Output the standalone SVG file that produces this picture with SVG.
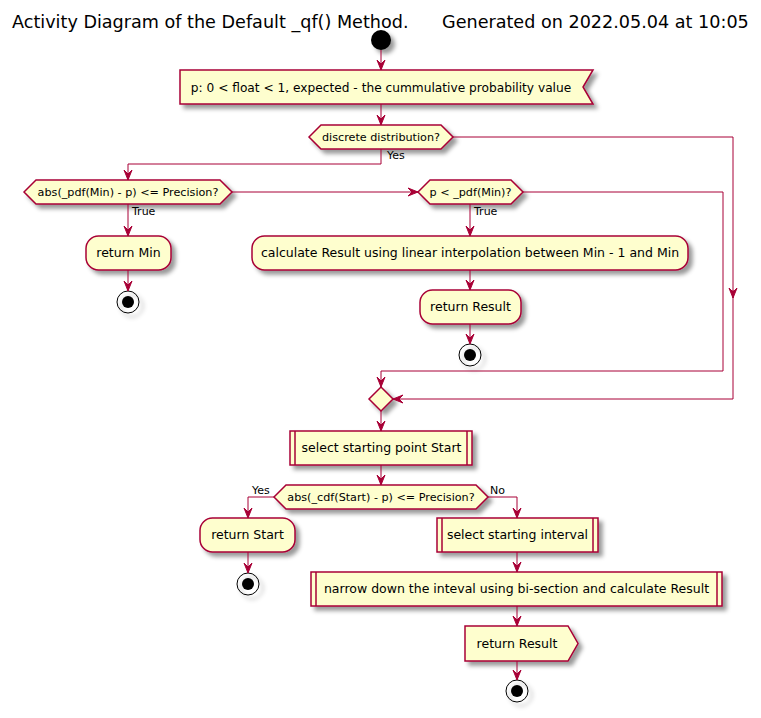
<svg xmlns="http://www.w3.org/2000/svg" width="761" height="718" viewBox="0 0 761 718">
<defs>
<filter id="sh" x="-1" y="-1" width="300%" height="300%">
<feGaussianBlur result="b" stdDeviation="2"/>
<feColorMatrix in="b" result="b2" type="matrix" values="0 0 0 0 0 0 0 0 0 0 0 0 0 0 0 0 0 0 .4 0"/>
<feOffset dx="4" dy="4" in="b2" result="b3"/>
<feBlend in="SourceGraphic" in2="b3" mode="normal"/>
</filter>
<marker id="ah" markerUnits="userSpaceOnUse" markerWidth="12" markerHeight="10" refX="10" refY="4" orient="auto" overflow="visible">
<path d="M0,0 L10,4 L0,8 L4,4 Z" fill="#A80036" stroke="#A80036" stroke-width="1"/>
</marker>
</defs>
<style>
.n{fill:#FEFECE;stroke:#A80036;stroke-width:1.5;filter:url(#sh)}
.bar{stroke:#A80036;stroke-width:1.5;fill:none}
.t{font-family:"DejaVu Sans","Liberation Sans",sans-serif;font-size:12.5px;fill:#000;text-anchor:middle}
.d{font-family:"DejaVu Sans","Liberation Sans",sans-serif;font-size:11.2px;fill:#000;text-anchor:middle}
.l{font-family:"DejaVu Sans","Liberation Sans",sans-serif;font-size:11px;fill:#000}
.c path{fill:none;stroke:#A80036;stroke-width:1}
.c path.a{marker-end:url(#ah)}
.stopo{fill:none;stroke:#000;stroke-width:1;filter:url(#sh)}
</style>
<rect width="761" height="718" fill="#FFFFFF"/>
<text x="12" y="28" font-family="DejaVu Sans, Liberation Sans, sans-serif" font-size="17.6" xml:space="preserve">Activity Diagram of the Default _qf() Method.      Generated on 2022.05.04 at 10:05</text>

<g id="start"><circle cx="381" cy="40" r="10" fill="#000" filter="url(#sh)"/></g>

<g id="input"><polygon class="n" points="180,70 593,70 583,87 593,104 180,104"/><text class="t" x="381" y="92" style="font-size:12.2px">p: 0 &lt; float &lt; 1, expected - the cummulative probability value</text></g>

<g id="dec1"><polygon class="n" points="309,137 321,125 441,125 453,137 441,149 321,149"/><text class="d" x="381" y="141">discrete distribution?</text></g>

<g id="dec2"><polygon class="n" points="24,192 36,180 220,180 232,192 220,204 36,204"/><text class="d" x="128" y="196">abs(_pdf(Min) - p) &lt;= Precision?</text></g>

<g id="dec3"><polygon class="n" points="418,192 430,180 511,180 523,192 511,204 430,204"/><text class="d" x="470.5" y="196">p &lt; _pdf(Min)?</text></g>

<g id="retMin"><rect class="n" x="86" y="236" width="85" height="34" rx="12.5" ry="12.5"/><text class="t" x="128.5" y="257">return Min</text></g>
<g id="stop1"><circle class="stopo" cx="128" cy="302" r="11"/><circle cx="128" cy="302" r="6" fill="#000"/></g>

<g id="calc"><rect class="n" x="252" y="236" width="436" height="34" rx="12.5" ry="12.5"/><text class="t" x="470" y="257">calculate Result using linear interpolation between Min - 1 and Min</text></g>
<g id="retRes1"><rect class="n" x="420" y="290" width="101" height="34" rx="12.5" ry="12.5"/><text class="t" x="470.5" y="311">return Result</text></g>
<g id="stop2"><circle class="stopo" cx="470" cy="355" r="11"/><circle cx="470" cy="355" r="6" fill="#000"/></g>

<g id="merge"><polygon class="n" points="381,387 393,399 381,411 369,399"/></g>

<g id="selStart"><rect class="n" x="290" y="431" width="182" height="34"/><path class="bar" d="M295,431 V465 M467,431 V465"/><text class="t" x="381.5" y="452">select starting point Start</text></g>

<g id="dec4"><polygon class="n" points="274,497 286,485 476,485 488,497 476,509 286,509"/><text class="d" x="381" y="501">abs(_cdf(Start) - p) &lt;= Precision?</text></g>

<g id="retStart"><rect class="n" x="200" y="518" width="95" height="34" rx="12.5" ry="12.5"/><text class="t" x="247.5" y="539">return Start</text></g>
<g id="stop3"><circle class="stopo" cx="248" cy="584" r="11"/><circle cx="248" cy="584" r="6" fill="#000"/></g>

<g id="selInt"><rect class="n" x="437" y="518" width="161" height="34"/><path class="bar" d="M442,518 V552 M593,518 V552"/><text class="t" x="517.5" y="539">select starting interval</text></g>

<g id="narrow"><rect class="n" x="311" y="572" width="411" height="34"/><path class="bar" d="M316,572 V606 M717,572 V606"/><text class="t" x="516.5" y="593">narrow down the inteval using bi-section and calculate Result</text></g>

<g id="retRes2"><polygon class="n" points="465,626 568,626 578,643.5 568,661 465,661"/><text class="t" x="517" y="648">return Result</text></g>
<g id="stop4"><circle class="stopo" cx="517" cy="691" r="11"/><circle cx="517" cy="691" r="6" fill="#000"/></g>

<g id="connectors" class="c">
<path class="a" d="M381,50 V70"/>
<path class="a" d="M381,104 V125"/>
<path class="a" d="M381,149 V164 H128 V180"/>
<path class="a" d="M232,192 H418"/>
<path class="a" d="M128,204 V236"/>
<path class="a" d="M128,270 V291"/>
<path class="a" d="M470,204 V236"/>
<path class="a" d="M470,270 V290"/>
<path class="a" d="M470,324 V344"/>
<path class="a" d="M523,192 H723 V371 H381 V387"/>
<path class="a" d="M453,137 H733 V298"/>
<path class="a" d="M733,290 V399 H393"/>
<path class="a" d="M381,411 V431"/>
<path class="a" d="M381,465 V485"/>
<path class="a" d="M274,497 H248 V518"/>
<path class="a" d="M248,552 V573"/>
<path class="a" d="M488,497 H517 V518"/>
<path class="a" d="M517,552 V572"/>
<path class="a" d="M517,606 V626"/>
<path class="a" d="M517,661 V680"/>
</g>
<text class="l" x="387" y="159">Yes</text>
<text class="l" x="132" y="215">True</text>
<text class="l" x="474" y="215">True</text>
<text class="l" x="252" y="494">Yes</text>
<text class="l" x="490" y="494">No</text>
</svg>
